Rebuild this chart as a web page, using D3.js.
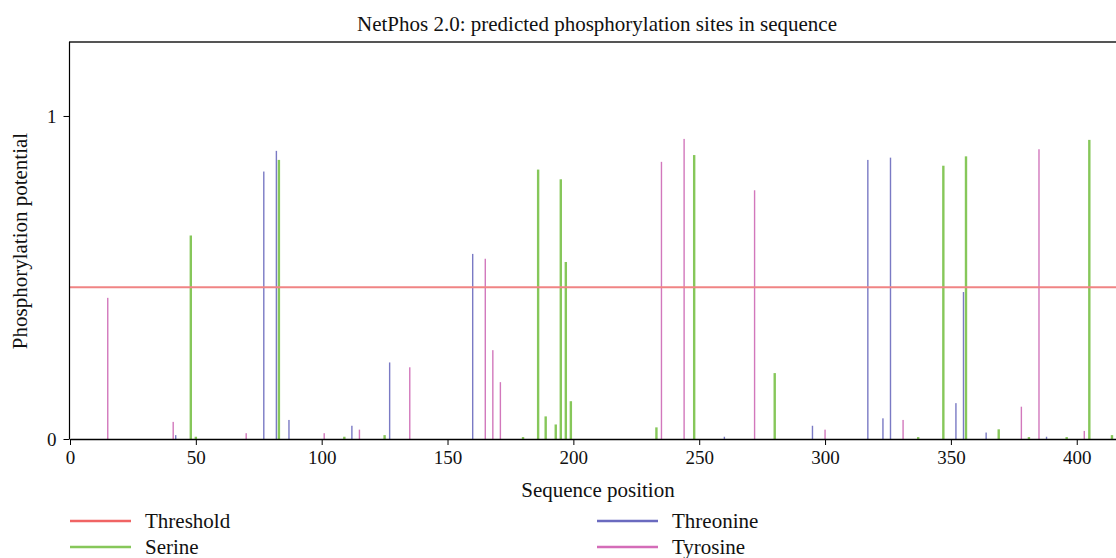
<!DOCTYPE html>
<meta charset="utf-8">
<style>
body { margin: 0; background: #fff; }
svg text { font-family: "Liberation Serif", "DejaVu Serif", serif; fill: #111; }
</style>
<svg width="1116" height="558"></svg>
<script src="https://d3js.org/d3.v7.min.js"></script>
<script>

var serinePos = [48, 50, 83, 109, 125, 180, 186, 189, 193, 195, 197, 199, 233, 248, 280, 337, 347, 356, 369, 381, 396, 405, 414];
var serineVal = [0.63, 0.007, 0.864, 0.007, 0.012, 0.006, 0.834, 0.07, 0.045, 0.804, 0.548, 0.117, 0.036, 0.879, 0.204, 0.006, 0.846, 0.875, 0.03, 0.006, 0.006, 0.926, 0.012];

var threoninePos = [42, 77, 82, 87, 112, 127, 160, 260, 295, 317, 323, 326, 352, 355, 364, 388];
var threonineVal = [0.012, 0.828, 0.892, 0.059, 0.041, 0.237, 0.573, 0.007, 0.041, 0.864, 0.064, 0.871, 0.111, 0.455, 0.02, 0.007];

var tyrosinePos = [15, 41, 70, 101, 115, 135, 165, 168, 171, 235, 244, 272, 300, 331, 378, 385, 403];
var tyrosineVal = [0.437, 0.053, 0.018, 0.018, 0.029, 0.222, 0.558, 0.275, 0.176, 0.858, 0.929, 0.77, 0.029, 0.059, 0.1, 0.897, 0.025];

var threshold = 0.47;
var xTicks = [0, 50, 100, 150, 200, 250, 300, 350, 400];
var yTicks = [0, 1];

var svg = d3.select("svg");

var x = d3.scaleLinear().domain([0, 415.6]).range([70, 1116]);
var y = d3.scaleLinear().domain([0, 1.229]).range([439, 42]);

var series = [
  {name: "Serine", pos: serinePos, val: serineVal, color: "#86c75a", width: 2.4},
  {name: "Threonine", pos: threoninePos, val: threonineVal, color: "#7a7ac4", width: 1.4},
  {name: "Tyrosine", pos: tyrosinePos, val: tyrosineVal, color: "#d278bc", width: 1.4}
];

// bars
series.forEach(function(s) {
  svg.append("g").selectAll("rect")
    .data(d3.zip(s.pos, s.val))
    .enter().append("rect")
      .attr("x", function(d) { return x(d[0]) - s.width / 2; })
      .attr("y", function(d) { return y(d[1]); })
      .attr("width", s.width)
      .attr("height", function(d) { return y(0) - y(d[1]); })
      .attr("fill", s.color);
});

// threshold
svg.append("line")
    .attr("x1", x.range()[0]).attr("x2", x.range()[1])
    .attr("y1", y(threshold)).attr("y2", y(threshold))
    .attr("stroke", "#f08484")
    .attr("stroke-width", 2);

// frame top
svg.append("line")
    .attr("x1", 69).attr("x2", 1116)
    .attr("y1", 42).attr("y2", 42)
    .attr("stroke", "#555")
    .attr("stroke-width", 2);

// axes
var xAxis = svg.append("g")
    .attr("transform", "translate(0," + y(0) + ")")
    .call(d3.axisBottom(x).tickValues(xTicks).tickFormat(d3.format("d")).tickSize(6).tickSizeOuter(0));
xAxis.select(".domain").attr("stroke", "#000").attr("stroke-width", 1.5);
xAxis.selectAll(".tick text")
    .style("font-size", "19px")
    .style("font-family", "'Liberation Serif', serif")
    .attr("dy", "0.85em");

var yAxis = svg.append("g")
    .attr("transform", "translate(" + 69.5 + ",0)")
    .call(d3.axisLeft(y).tickValues(yTicks).tickFormat(d3.format("d")).tickSize(6).tickSizeOuter(0));
yAxis.select(".domain").attr("d", "M0," + y(0) + "V42").attr("stroke", "#000").attr("stroke-width", 1.2);
yAxis.selectAll(".tick text")
    .style("font-size", "19px")
    .style("font-family", "'Liberation Serif', serif")
    .attr("x", -13);

// titles
svg.append("text")
    .attr("x", 597).attr("y", 31)
    .attr("text-anchor", "middle")
    .style("font-size", "21px")
    .text("NetPhos 2.0: predicted phosphorylation sites in sequence");

svg.append("text")
    .attr("x", 598).attr("y", 497)
    .attr("text-anchor", "middle")
    .style("font-size", "21px")
    .text("Sequence position");

svg.append("text")
    .attr("transform", "translate(27,241) rotate(-90)")
    .attr("text-anchor", "middle")
    .style("font-size", "21px")
    .text("Phosphorylation potential");

// legend
var legend = [
  {name: "Threshold", color: "#f06464", lx: 70, ly: 521},
  {name: "Serine", color: "#86c75a", lx: 70, ly: 547},
  {name: "Threonine", color: "#6a6abf", lx: 597, ly: 521},
  {name: "Tyrosine", color: "#d46cb8", lx: 597, ly: 547}
];

var lg = svg.append("g").selectAll("g")
  .data(legend)
  .enter().append("g")
    .attr("transform", function(d) { return "translate(" + d.lx + "," + d.ly + ")"; });

lg.append("line")
    .attr("x2", 61)
    .attr("stroke", function(d) { return d.color; })
    .attr("stroke-width", 2.5);

lg.append("text")
    .attr("x", 75)
    .attr("dy", "0.33em")
    .style("font-size", "21px")
    .text(function(d) { return d.name; });

</script>
